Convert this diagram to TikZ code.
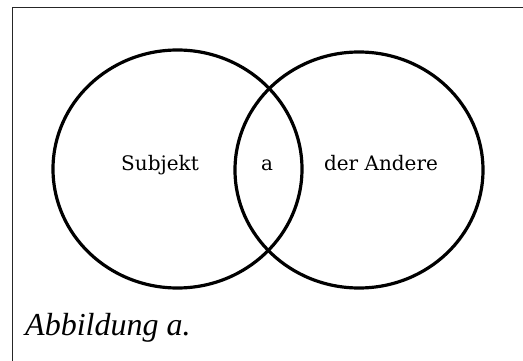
\documentclass[tikz,border=0pt]{standalone}
\usepackage{fontspec}
\setmainfont{Liberation Serif}
\newfontfamily\labelfont{DejaVu Serif}
\usetikzlibrary{shapes.geometric}
\tikzset{
  ring/.style={draw=black, line width=3.2pt, ellipse, inner sep=0pt},
  lbl/.style={font=\labelfont\fontsize{20}{24}\selectfont, anchor=base, inner sep=0pt},
  captext/.style={font=\itshape\fontsize{32}{36}\selectfont, anchor=base west, inner sep=0pt},
  frameline/.style={draw=black!85, line width=1pt}
}
\begin{document}
\begin{tikzpicture}[x=1pt,y=-1pt]
\useasboundingbox (0,0) rectangle (523,361);
\coordinate (fb) at (12,361);
\coordinate (fc) at (12,8);
\coordinate (fr) at (523,8);
\draw[frameline] (fb) -- (fc) -- (fr);
\node[ring, minimum width=249pt, minimum height=238pt] (left) at (177.5,169) {};
\node[ring, minimum width=248pt, minimum height=236pt] (right) at (359,170) {};
\node[lbl] (subj) at (160,171) {Subjekt};
\node[lbl] (a) at (267,171) {a};
\node[lbl] (andere) at (381,171) {der Andere};
\node[captext] (caption) at (25,335) {Abbildung a.};
\end{tikzpicture}
\end{document}
